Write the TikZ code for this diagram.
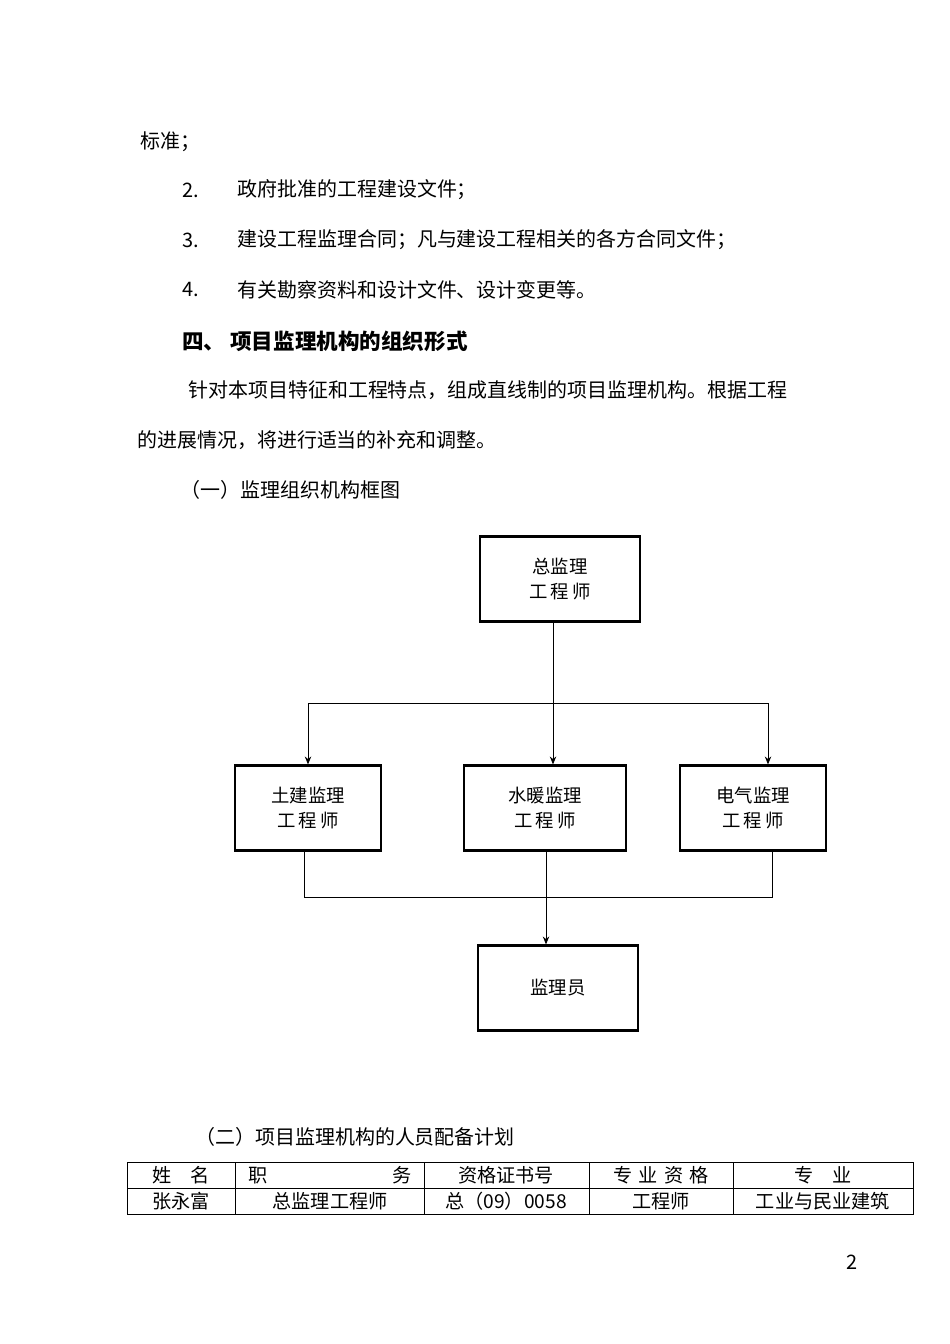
\documentclass[tikz,border=0pt]{standalone}
\usepackage{fontspec}
\setmainfont{Liberation Serif}
\newfontfamily\cjk{Noto Sans CJK SC}
\usetikzlibrary{positioning,arrows.meta}
\tikzset{
  txt/.style={anchor=west,inner sep=0pt,font=\cjk\fontsize{12.5}{14}\selectfont},
  orgbox/.style={draw=black,line width=1.3pt,minimum width=146*0.626pt,minimum height=85*0.626pt,align=center,font=\cjk\fontsize{11.5}{15.5}\selectfont},
  link/.style={line width=0.6pt},
  arr/.style={link,-{Stealth[length=5pt,width=4pt]}},
  cell/.style={inner sep=0pt,font=\cjk\fontsize{12}{14}\selectfont}
}
\begin{document}
\begin{tikzpicture}[x=0.626pt,y=-0.626pt]
\useasboundingbox (0,0) rectangle (950,1344);
% text above the chart
\node[txt] (t0) at (140,142) {标准；};
\node[txt] (n2) at (182,190) {2.};
\node[txt] (t2) at (237,190) {政府批准的工程建设文件；};
\node[txt] (n3) at (182,240) {3.};
\node[txt] (t3) at (237,240) {建设工程监理合同；凡与建设工程相关的各方合同文件；};
\node[txt] (n4) at (182,290) {4.};
\node[txt] (t4) at (237,290) {有关勘察资料和设计文件、设计变更等。};
\node[txt,font=\cjk\bfseries\fontsize{13.5}{15}\selectfont] (h4) at (182,341) {四、 项目监理机构的组织形式};
\node[txt] (p1) at (188,390) {针对本项目特征和工程特点，组成直线制的项目监理机构。根据工程};
\node[txt] (p2) at (137,440) {的进展情况，将进行适当的补充和调整。};
\node[txt] (s1) at (180,490) {（一）监理组织机构框图};

% chart
\node[orgbox,minimum width=160*0.626pt] (chief) at (560,579) {总监理\\工\,程\,师};
\node[orgbox] (civil) at (308,808) {土建监理\\工\,程\,师};
\node[orgbox,minimum width=162*0.626pt] (hvac) at (545,808) {水暖监理\\工\,程\,师};
\node[orgbox] (elec) at (753,808) {电气监理\\工\,程\,师};
\node[orgbox,minimum width=160*0.626pt] (insp) at (558,988) {监理员};
\coordinate (split) at (553,703);
\coordinate (merge) at (546,897);
\draw[link] (chief.south -| split) -- (split);
\draw[arr] (split) -- (split |- hvac.north);
\draw[arr] (split) -| (civil.north);
\draw[arr] (split) -| ([xshift=15*0.626pt]elec.north);
\draw[link] ([xshift=-4*0.626pt]civil.south) |- (merge);
\draw[link] ([xshift=19*0.626pt]elec.south) |- (merge);
\draw[arr] (hvac.south -| merge) -- (merge |- insp.north);

% staffing table
\node[txt] (s2) at (195,1137) {（二）项目监理机构的人员配备计划};
\draw[line width=0.6pt] (127,1162) rectangle (913,1214);
\draw[line width=0.6pt] (127,1188) -- (913,1188);
\foreach \x in {235,424,589,733} \draw[line width=0.6pt] (\x,1162) -- (\x,1214);
\node[cell] (c1) at (181,1175) {姓\quad 名};
\node[cell] (c2) at (330,1175) {职\hspace{6.5em}务};
\node[cell] (c3) at (506,1175) {资格证书号};
\node[cell] (c4) at (661,1175) {专\,\,业\,\,资\,\,格};
\node[cell] (c5) at (823,1175) {专\quad 业};
\node[cell] (d1) at (181,1201) {张永富};
\node[cell] (d2) at (330,1201) {总监理工程师};
\node[cell] (d3) at (506,1201) {总（09）0058};
\node[cell] (d4) at (661,1201) {工程师};
\node[cell] (d5) at (823,1201) {工业与民业建筑};
\node[txt] (pg) at (846,1262) {2};
\end{tikzpicture}
\end{document}
